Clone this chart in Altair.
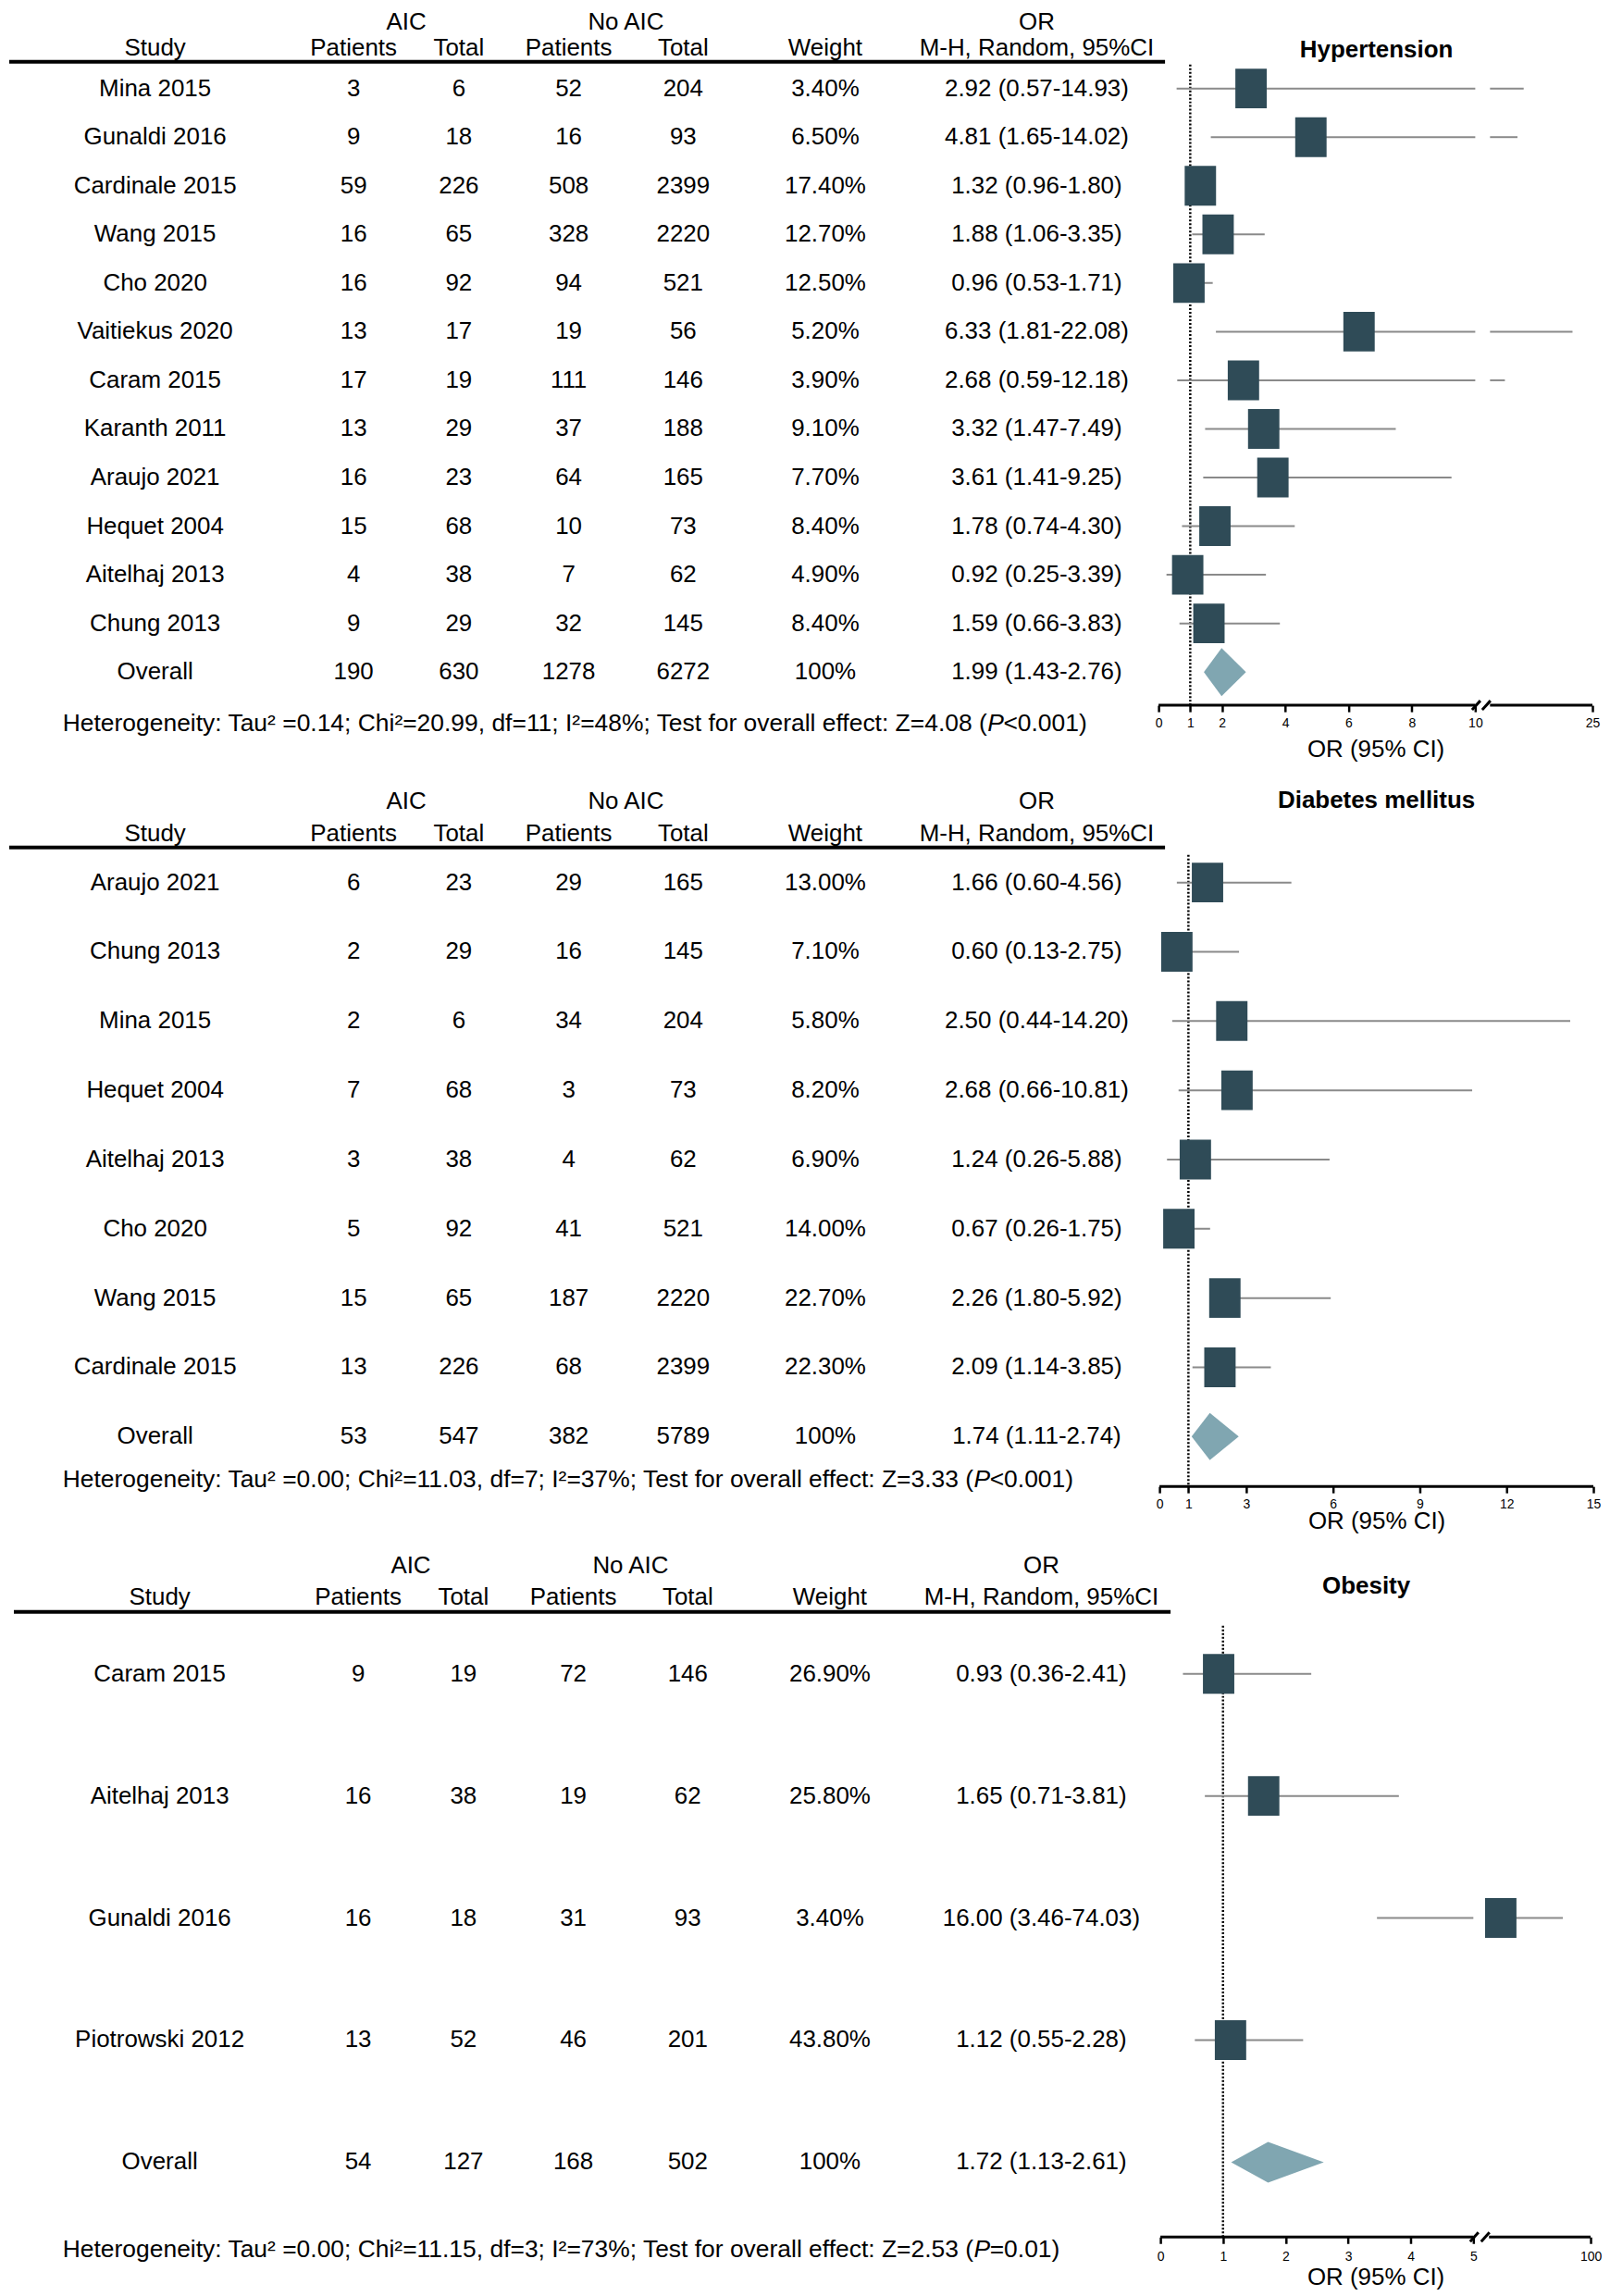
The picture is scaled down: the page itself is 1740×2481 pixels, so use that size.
import altair as alt
import pandas as pd

FONT = "Liberation Sans"
FS = 26
HET_FS = 26.5
SQ_COL = "#2f4b57"
DIA_COL = "#80a6b1"
CI_COL = "#8a8a8a"

# ---------------- data: Hypertension ----------------
ht_study = ["Mina 2015", "Gunaldi 2016", "Cardinale 2015", "Wang 2015", "Cho 2020",
            "Vaitiekus 2020", "Caram 2015", "Karanth 2011", "Araujo 2021", "Hequet 2004",
            "Aitelhaj 2013", "Chung 2013"]
ht_aic_pat = [3, 9, 59, 16, 16, 13, 17, 13, 16, 15, 4, 9]
ht_aic_tot = [6, 18, 226, 65, 92, 17, 19, 29, 23, 68, 38, 29]
ht_no_pat = [52, 16, 508, 328, 94, 19, 111, 37, 64, 10, 7, 32]
ht_no_tot = [204, 93, 2399, 2220, 521, 56, 146, 188, 165, 73, 62, 145]
ht_weight = [3.40, 6.50, 17.40, 12.70, 12.50, 5.20, 3.90, 9.10, 7.70, 8.40, 4.90, 8.40]
ht_or = [2.92, 4.81, 1.32, 1.88, 0.96, 6.33, 2.68, 3.32, 3.61, 1.78, 0.92, 1.59]
ht_lo = [0.57, 1.65, 0.96, 1.06, 0.53, 1.81, 0.59, 1.47, 1.41, 0.74, 0.25, 0.66]
ht_hi = [14.93, 14.02, 1.80, 3.35, 1.71, 22.08, 12.18, 7.49, 9.25, 4.30, 3.39, 3.83]
ht_totals = [190, 630, 1278, 6272]
ht_overall = [1.99, 1.43, 2.76]
ht_het = ["Heterogeneity: Tau\u00b2 =0.14; Chi\u00b2=20.99, df=11; I\u00b2=48%; Test for overall effect: Z=4.08 (",
          "P", "<0.001)"]

# ---------------- data: Diabetes mellitus ----------------
dm_study = ["Araujo 2021", "Chung 2013", "Mina 2015", "Hequet 2004", "Aitelhaj 2013",
            "Cho 2020", "Wang 2015", "Cardinale 2015"]
dm_aic_pat = [6, 2, 2, 7, 3, 5, 15, 13]
dm_aic_tot = [23, 29, 6, 68, 38, 92, 65, 226]
dm_no_pat = [29, 16, 34, 3, 4, 41, 187, 68]
dm_no_tot = [165, 145, 204, 73, 62, 521, 2220, 2399]
dm_weight = [13.00, 7.10, 5.80, 8.20, 6.90, 14.00, 22.70, 22.30]
dm_or = [1.66, 0.60, 2.50, 2.68, 1.24, 0.67, 2.26, 2.09]
dm_lo = [0.60, 0.13, 0.44, 0.66, 0.26, 0.26, 1.80, 1.14]
dm_hi = [4.56, 2.75, 14.20, 10.81, 5.88, 1.75, 5.92, 3.85]
dm_totals = [53, 547, 382, 5789]
dm_overall = [1.74, 1.11, 2.74]
dm_het = ["Heterogeneity: Tau\u00b2 =0.00; Chi\u00b2=11.03, df=7; I\u00b2=37%; Test for overall effect: Z=3.33 (",
          "P", "<0.001)"]

# ---------------- data: Obesity ----------------
ob_study = ["Caram 2015", "Aitelhaj 2013", "Gunaldi 2016", "Piotrowski 2012"]
ob_aic_pat = [9, 16, 16, 13]
ob_aic_tot = [19, 38, 18, 52]
ob_no_pat = [72, 19, 31, 46]
ob_no_tot = [146, 62, 93, 201]
ob_weight = [26.90, 25.80, 3.40, 43.80]
ob_or = [0.93, 1.65, 16.00, 1.12]
ob_lo = [0.36, 0.71, 3.46, 0.55]
ob_hi = [2.41, 3.81, 74.03, 2.28]
ob_totals = [54, 127, 168, 502]
ob_overall = [1.72, 1.13, 2.61]
ob_het = ["Heterogeneity: Tau\u00b2 =0.00; Chi\u00b2=11.15, df=3; I\u00b2=73%; Test for overall effect: Z=2.53 (",
          "P", "=0.01)"]

# Arial / Liberation Sans advance widths (per 1000 em) for placing the italic P
W_AR = {' ': 278, '(': 333, ')': 333, ',': 278, '.': 278, ':': 278, ';': 278, '<': 584,
        '=': 584, '%': 889, '\u00b2': 333, 'C': 722, 'H': 722, 'I': 278, 'P': 667,
        'T': 611, 'Z': 611, 'a': 556, 'c': 500, 'd': 556, 'e': 556, 'f': 278, 'g': 556,
        'h': 556, 'i': 222, 'l': 222, 'n': 556, 'o': 556, 'r': 333, 's': 500, 't': 278,
        'u': 556, 'v': 500, 'y': 500}


def twidth(s, size=FS):
    return sum(W_AR.get(ch, 556) for ch in s) * size / 1000.0


DUMMY = pd.DataFrame({"k": [0]})


def label(text, x, y, align="center", bold=False, italic=False, size=FS):
    return alt.Chart(DUMMY).mark_text(
        text=text, font=FONT, fontSize=size, color="black",
        fontWeight="bold" if bold else "normal",
        fontStyle="italic" if italic else "normal",
        align=align, baseline="middle",
    ).encode(x=alt.value(x), y=alt.value(y))


SQ_PATH = "M-0.79,-1H0.79V1H-0.79Z"


def make_panel(title, study, ap, at, npt, nt, wt, orv, lo, hi, tot, ov, het, g):
    n = len(study)
    H = g["H"]
    dx = g["dx"]
    tbl = pd.DataFrame({
        "row": list(range(n + 1)),
        "study": study + ["Overall"],
        "ap": [str(v) for v in ap + [tot[0]]],
        "at": [str(v) for v in at + [tot[1]]],
        "np": [str(v) for v in npt + [tot[2]]],
        "nt": [str(v) for v in nt + [tot[3]]],
        "w": [f"{v:.2f}%" for v in wt] + ["100%"],
        "ortxt": [f"{o:.2f} ({l:.2f}-{h:.2f})" for o, l, h in
                  zip(orv + [ov[0]], lo + [ov[1]], hi + [ov[2]])],
    })
    ysc = alt.Scale(domain=[0, n], range=[g["y_first"], g["y_last"]], nice=False, zero=False)
    Y = alt.Y("row:Q", scale=ysc, axis=None)

    layers = []
    cols = [("study", 158), ("ap", 373), ("at", 487), ("np", 606), ("nt", 730),
            ("w", 884), ("ortxt", 1113)]
    for field, cx in cols:
        layers.append(alt.Chart(tbl).mark_text(
            font=FONT, fontSize=FS, color="black", baseline="middle", align="center"
        ).encode(x=alt.value(cx + dx), y=Y, text=f"{field}:N"))

    # headers
    layers += [
        label("AIC", 430 + dx, g["y_h1"]),
        label("No AIC", 668 + dx, g["y_h1"]),
        label("OR", 1113 + dx, g["y_h1"]),
        label("Study", 158 + dx, g["y_h2"]),
        label("Patients", 373 + dx, g["y_h2"]),
        label("Total", 487 + dx, g["y_h2"]),
        label("Patients", 606 + dx, g["y_h2"]),
        label("Total", 730 + dx, g["y_h2"]),
        label("Weight", 884 + dx, g["y_h2"]),
        label("M-H, Random, 95%CI", 1113 + dx, g["y_h2"]),
        label(title, g["title_x"], g["y_title"], bold=True),
    ]
    layers.append(alt.Chart(DUMMY).mark_rule(strokeWidth=4, color="black").encode(
        x=alt.value(g["line_x0"]), x2=alt.value(g["line_x1"]), y=alt.value(g["y_line"])))

    # heterogeneity line (with italic P): first part right-aligned against the P
    hx = 55
    anchor = hx + twidth(het[0], HET_FS) - 7
    wp = twidth(het[1], HET_FS)
    layers += [
        label(het[0], anchor, g["y_het"], align="right", size=HET_FS),
        label(het[1], anchor + 0.5, g["y_het"], align="left", italic=True, size=HET_FS),
        label(het[2], anchor + wp, g["y_het"], align="left", size=HET_FS),
    ]

    # ---- forest plot ----
    B, G, K, dmax = g["brk"]

    def tf(v):
        return f"datum.{v} <= {B} ? datum.{v} : {B + G} + (datum.{v} - {B}) * {K}"

    xsc = alt.Scale(domain=[0, dmax], range=g["xrange"], nice=False, zero=False)
    ax = alt.Axis(values=g["ticks"], labelExpr=g["lexpr"], domain=False, grid=False,
                  ticks=True, tickColor="black", tickWidth=2.5, tickSize=7,
                  labelFont=FONT, labelFontSize=14, labelColor="black",
                  labelPadding=g["lp"], labelBaseline="middle", labelFlush=False,
                  labelOverlap=False, titleFont=FONT, titleFontSize=26,
                  titleFontWeight="normal", titleColor="black", titleY=g["ty"],
                  titleBaseline="middle", zindex=1)

    def X(f):
        return alt.X(f"{f}:Q", scale=xsc, axis=ax, title="OR (95% CI)")

    fr = pd.DataFrame({"row": list(range(n)), "or": orv, "lo": lo, "hi": hi})
    base = alt.Chart(fr).transform_calculate(
        or_t=tf("or"), lo_t=tf("lo"), hi_t=tf("hi"),
        hi1_t=f"min(datum.hi, {B})", bs=f"{B + G}")

    # null line
    layers.append(alt.Chart(pd.DataFrame({"v": [1.0]})).mark_rule(
        strokeDash=[2, 2], strokeWidth=2.5, color="black").encode(
        x=X("v"), y=alt.value(g["y_dot"]), y2=alt.value(H)))
    # CI lines
    layers.append(base.mark_rule(color=CI_COL, strokeWidth=2).encode(
        x=X("lo_t"), x2="hi1_t:Q", y=Y))
    layers.append(base.transform_filter(f"datum.hi > {B}").mark_rule(
        color=CI_COL, strokeWidth=2).encode(x=X("bs"), x2="hi_t:Q", y=Y))
    # squares
    layers.append(base.mark_point(shape=SQ_PATH, filled=True, size=1849, color=SQ_COL,
                                  opacity=1, strokeWidth=0).encode(x=X("or_t"), y=Y))
    # diamond
    h = g["dh"] / ((g["y_last"] - g["y_first"]) / n)
    dd = pd.DataFrame({"x": [ov[1], ov[0], ov[2]], "yt": [n, n - h, n], "yb": [n, n + h, n]})
    layers.append(alt.Chart(dd).transform_calculate(xt=tf("x")).mark_area(
        color=DIA_COL, opacity=1).encode(
        x=X("xt"), y=alt.Y("yt:Q", scale=ysc, axis=None), y2="yb:Q"))

    # axis line (broken where needed)
    if G > 0:
        segs = pd.DataFrame({"a": [0, B + G], "b": [B, dmax]})
    else:
        segs = pd.DataFrame({"a": [0], "b": [dmax]})
    layers.append(alt.Chart(segs).mark_rule(strokeWidth=3, color="black").encode(
        x=X("a"), x2="b:Q", y=alt.value(H)))
    if G > 0:
        ppu = (g["xrange"][1] - g["xrange"][0]) / dmax
        c1 = B + 1.0 / ppu
        c2 = B + G - 4.0 / ppu
        hw = 4.5 / ppu
        sl = pd.DataFrame({"a": [c1 - hw, c2 - hw], "b": [c1 + hw, c2 + hw]})
        layers.append(alt.Chart(sl).mark_rule(strokeWidth=3, color="black").encode(
            x=X("a"), x2="b:Q", y=alt.value(H + 5), y2=alt.value(H - 5)))

    return alt.layer(*layers).properties(width=1726, height=H)


g1 = dict(H=752, dx=0, y_h1=12, y_h2=40, y_title=42, title_x=1481, y_line=55, y_dot=58,
          y_first=84, y_last=716, y_het=772, line_x0=0, line_x1=1252,
          xrange=[1245, 1715], brk=(10, 0.466, 0.2156, 13.70),
          ticks=[0, 1, 2, 4, 6, 8, 10, 13.70],
          lexpr="datum.value > 11 ? '25' : datum.label", lp=12, ty=48, dh=26)
g2 = dict(H=846, dx=0, y_h1=104, y_h2=139, y_title=103, title_x=1481, y_line=154, y_dot=162,
          y_first=192, y_last=792, y_het=839, line_x0=0, line_x1=1252,
          xrange=[1246, 1716], brk=(100, 0, 1, 15),
          ticks=[0, 1, 3, 6, 9, 12, 15],
          lexpr="datum.label", lp=12, ty=37, dh=25.5)
g3 = dict(H=813, dx=5, y_h1=86, y_h2=120, y_title=108, title_x=1470, y_line=136, y_dot=151,
          y_first=203, y_last=732, y_het=827, line_x0=5, line_x1=1258,
          xrange=[1247, 1713], brk=(5, 0.25, 0.01708, 6.873),
          ticks=[0, 1, 2, 3, 4, 5, 6.873],
          lexpr="datum.value > 5.5 ? '100' : datum.label", lp=14, ty=43, dh=22)

p1 = make_panel("Hypertension", ht_study, ht_aic_pat, ht_aic_tot, ht_no_pat, ht_no_tot,
                ht_weight, ht_or, ht_lo, ht_hi, ht_totals, ht_overall, ht_het, g1)
p2 = make_panel("Diabetes mellitus", dm_study, dm_aic_pat, dm_aic_tot, dm_no_pat, dm_no_tot,
                dm_weight, dm_or, dm_lo, dm_hi, dm_totals, dm_overall, dm_het, g2)
p3 = make_panel("Obesity", ob_study, ob_aic_pat, ob_aic_tot, ob_no_pat, ob_no_tot,
                ob_weight, ob_or, ob_lo, ob_hi, ob_totals, ob_overall, ob_het, g3)

chart = alt.vconcat(p1, p2, p3, spacing=0, bounds="flush", padding=0).resolve_scale(
    x="independent", y="independent").configure_view(stroke=None)

chart.save("out.html", embed_options={"renderer": "svg", "actions": False})
